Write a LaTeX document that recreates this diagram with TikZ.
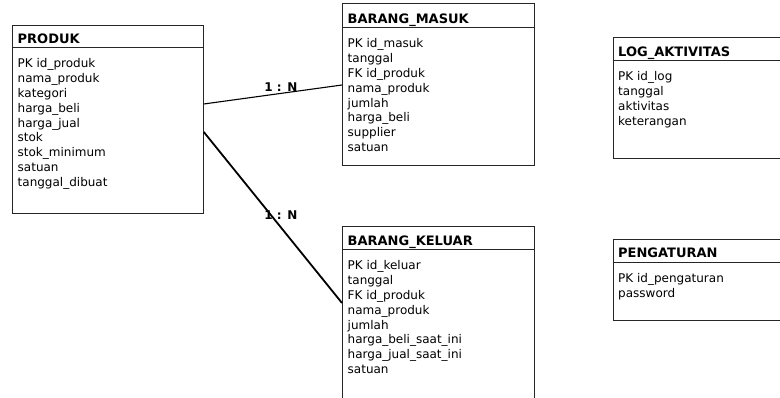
\documentclass[tikz,border=0pt]{standalone}
\usepackage{fontspec}
\setmainfont{DejaVu Sans}
\usetikzlibrary{positioning}

\begin{document}
\begin{tikzpicture}[x=1pt,y=-1pt,
    entity/.style={draw=black!85,line width=0.8pt,anchor=north west,inner sep=0pt},
    rule/.style={draw=black!85,line width=0.8pt},
    title/.style={anchor=base west,inner sep=0pt,font=\fontsize{13}{15}\selectfont\bfseries},
    attrs/.style={anchor=north west,inner sep=0pt,align=left,font=\fontsize{12}{14.8}\selectfont},
    card/.style={inner sep=0pt,xshift=8pt,font=\fontsize{12}{14}\selectfont\bfseries}]
    \useasboundingbox (0,0) rectangle (780,398);
    \clip (0,0) rectangle (780,398);

    % PRODUK
    \node[entity,minimum width=191pt,minimum height=188pt] (produk) at (12,25) {};
    \draw[rule] ([yshift=-22.5pt]produk.north west) -- ([yshift=-22.5pt]produk.north east);
    \node[below right=18.2pt and 5.5pt of produk.north west,title] (produkT) {PRODUK};
    \node[below right=33.5pt and 5.5pt of produk.north west,attrs] (produkA)
        {PK id\_produk\\nama\_produk\\kategori\\harga\_beli\\harga\_jual\\stok\\stok\_minimum\\satuan\\tanggal\_dibuat};

    % BARANG_MASUK
    \node[entity,minimum width=192pt,minimum height=161.5pt] (masuk) at (342,3.5) {};
    \draw[rule] ([yshift=-24pt]masuk.north west) -- ([yshift=-24pt]masuk.north east);
    \node[below right=19.7pt and 5.5pt of masuk.north west,title] (masukT) {BARANG\_MASUK};
    \node[below right=35pt and 5.5pt of masuk.north west,attrs] (masukA)
        {PK id\_masuk\\tanggal\\FK id\_produk\\nama\_produk\\jumlah\\harga\_beli\\supplier\\satuan};

    % BARANG_KELUAR
    \node[entity,minimum width=192pt,minimum height=200pt] (keluar) at (342,226) {};
    \draw[rule] ([yshift=-23.5pt]keluar.north west) -- ([yshift=-23.5pt]keluar.north east);
    \node[below right=19.2pt and 5.5pt of keluar.north west,title] (keluarT) {BARANG\_KELUAR};
    \node[below right=34.5pt and 5.5pt of keluar.north west,attrs] (keluarA)
        {PK id\_keluar\\tanggal\\FK id\_produk\\nama\_produk\\jumlah\\harga\_beli\_saat\_ini\\harga\_jual\_saat\_ini\\satuan};

    % LOG_AKTIVITAS
    \node[entity,minimum width=200pt,minimum height=121pt] (logakt) at (612.5,37) {};
    \draw[rule] ([yshift=-23.5pt]logakt.north west) -- ([yshift=-23.5pt]logakt.north east);
    \node[below right=19.2pt and 5.5pt of logakt.north west,title] (logaktT) {LOG\_AKTIVITAS};
    \node[below right=34.5pt and 5.5pt of logakt.north west,attrs] (logaktA)
        {PK id\_log\\tanggal\\aktivitas\\keterangan};

    % PENGATURAN
    \node[entity,minimum width=200pt,minimum height=81pt] (atur) at (612.5,239) {};
    \draw[rule] ([yshift=-23pt]atur.north west) -- ([yshift=-23pt]atur.north east);
    \node[below right=18.7pt and 5.5pt of atur.north west,title] (aturT) {PENGATURAN};
    \node[below right=34pt and 5.5pt of atur.north west,attrs] (aturA)
        {PK id\_pengaturan\\password};

    % relasi
    \draw[line width=1.1pt] ([yshift=-79pt]produk.north east) -- ([yshift=-81.5pt]masuk.north west)
        node[pos=0.5,card,yshift=7.5pt] (rel1) {1 : N};
    \draw[line width=1.8pt] ([yshift=-107pt]produk.north east) -- ([yshift=-77pt]keluar.north west)
        node[pos=0.5,card,yshift=2.5pt] (rel2) {1 : N};
\end{tikzpicture}
\end{document}
